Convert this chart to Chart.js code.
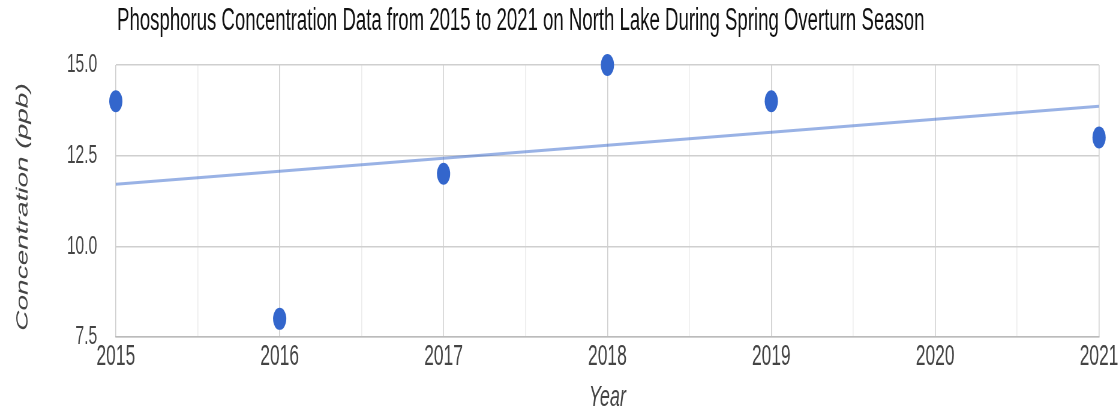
<!DOCTYPE html>
<html lang="en">
<head>
  <meta charset="UTF-8">
  <title>Phosphorus Concentration - North Lake</title>
  <script src="https://cdn.jsdelivr.net/npm/chart.js"></script>
  <style>
    html, body { margin: 0; padding: 0; background: #fff; overflow: hidden; }
    /* the reference is a horizontally squeezed chart, so draw wide and squeeze */
    #wrap { width: 1867px; height: 416px; transform: scaleX(0.6); transform-origin: 0 0; }
  </style>
</head>
<body>
  <div id="wrap"><canvas id="grafico"></canvas></div>

  <script>
    const years = [2015, 2016, 2017, 2018, 2019, 2021];
    const concentration = [14, 8, 12, 15, 14, 13];
    // trendline end points
    const trendYears = [2015, 2021];
    const trendValues = [11.71, 13.86];
    const yTicks = [7.5, 10.0, 12.5, 15.0];

    const titleText = 'Phosphorus Concentration Data from 2015 to 2021 on North Lake During Spring Overturn Season';
    const xTitle = 'Year';
    const yTitle = 'Concentration (ppb)';
    const fam = '"Liberation Sans", Arial, sans-serif';

    const textos = {
      id: 'textos',
      afterDraw(chart) {
        const c = chart.ctx;
        const area = chart.chartArea;
        c.save();
        c.fillStyle = '#111';
        c.font = '31px ' + fam;
        c.textAlign = 'left';
        c.textBaseline = 'alphabetic';
        c.fillText(titleText, 195, 30);

        c.fillStyle = '#444';
        c.font = 'italic 30px ' + fam;
        c.textAlign = 'center';
        c.fillText(xTitle, (area.left + area.right) / 2, 406);

        c.font = 'italic 28px ' + fam;
        c.translate(46, 207);
        c.rotate(-Math.PI / 2);
        c.fillText(yTitle, 0, 0);
        c.restore();
      }
    };

    const ctx = document.getElementById('grafico').getContext('2d');
    new Chart(ctx, {
      type: 'scatter',
      data: {
        datasets: [
          {
            label: 'Tendência',
            data: trendYears.map((x, i) => ({ x, y: trendValues[i] })),
            showLine: true,
            borderColor: 'rgba(51,102,204,0.5)',
            borderWidth: 3,
            pointRadius: 0,
            order: 2
          },
          {
            label: 'Concentration',
            data: years.map((x, i) => ({ x, y: concentration[i] })),
            backgroundColor: '#3366cc',
            borderWidth: 0,
            pointRadius: 11,
            clip: false,
            order: 1
          }
        ]
      },
      options: {
        responsive: true,
        maintainAspectRatio: false,
        animation: false,
        layout: { padding: { top: 65, right: 35, left: 0, bottom: 0 } },
        plugins: {
          legend: { display: false },
          tooltip: { enabled: false }
        },
        scales: {
          x: {
            type: 'linear',
            min: 2015,
            max: 2021,
            afterFit: s => { s.height = 79; },
            afterBuildTicks: s => {
              const t = [];
              for (let v = 2015; v <= 2021; v += 0.5) t.push({ value: v });
              s.ticks = t;
            },
            border: { color: '#bbb', width: 1.5 },
            grid: {
              drawTicks: false,
              lineWidth: 1.6,
              color: c => (c.tick && c.tick.value % 1 === 0) ? '#cfcfcf' : '#ececec'
            },
            ticks: {
              autoSkip: false,
              maxRotation: 0,
              padding: 3,
              color: '#444',
              font: { family: fam, size: 29 },
              callback: v => (v % 1 === 0 ? String(v) : '')
            }
          },
          y: {
            min: 7.5,
            max: 15,
            afterFit: s => { s.width = 193; },
            afterBuildTicks: s => { s.ticks = yTicks.map(v => ({ value: v })); },
            border: { display: false },
            grid: { drawTicks: false, color: '#cfcfcf', lineWidth: 1.5 },
            ticks: {
              padding: 31,
              color: '#444',
              font: { family: fam, size: 26 },
              callback: v => Number(v).toFixed(1)
            }
          }
        }
      },
      plugins: [textos]
    });
  </script>
</body>
</html>
